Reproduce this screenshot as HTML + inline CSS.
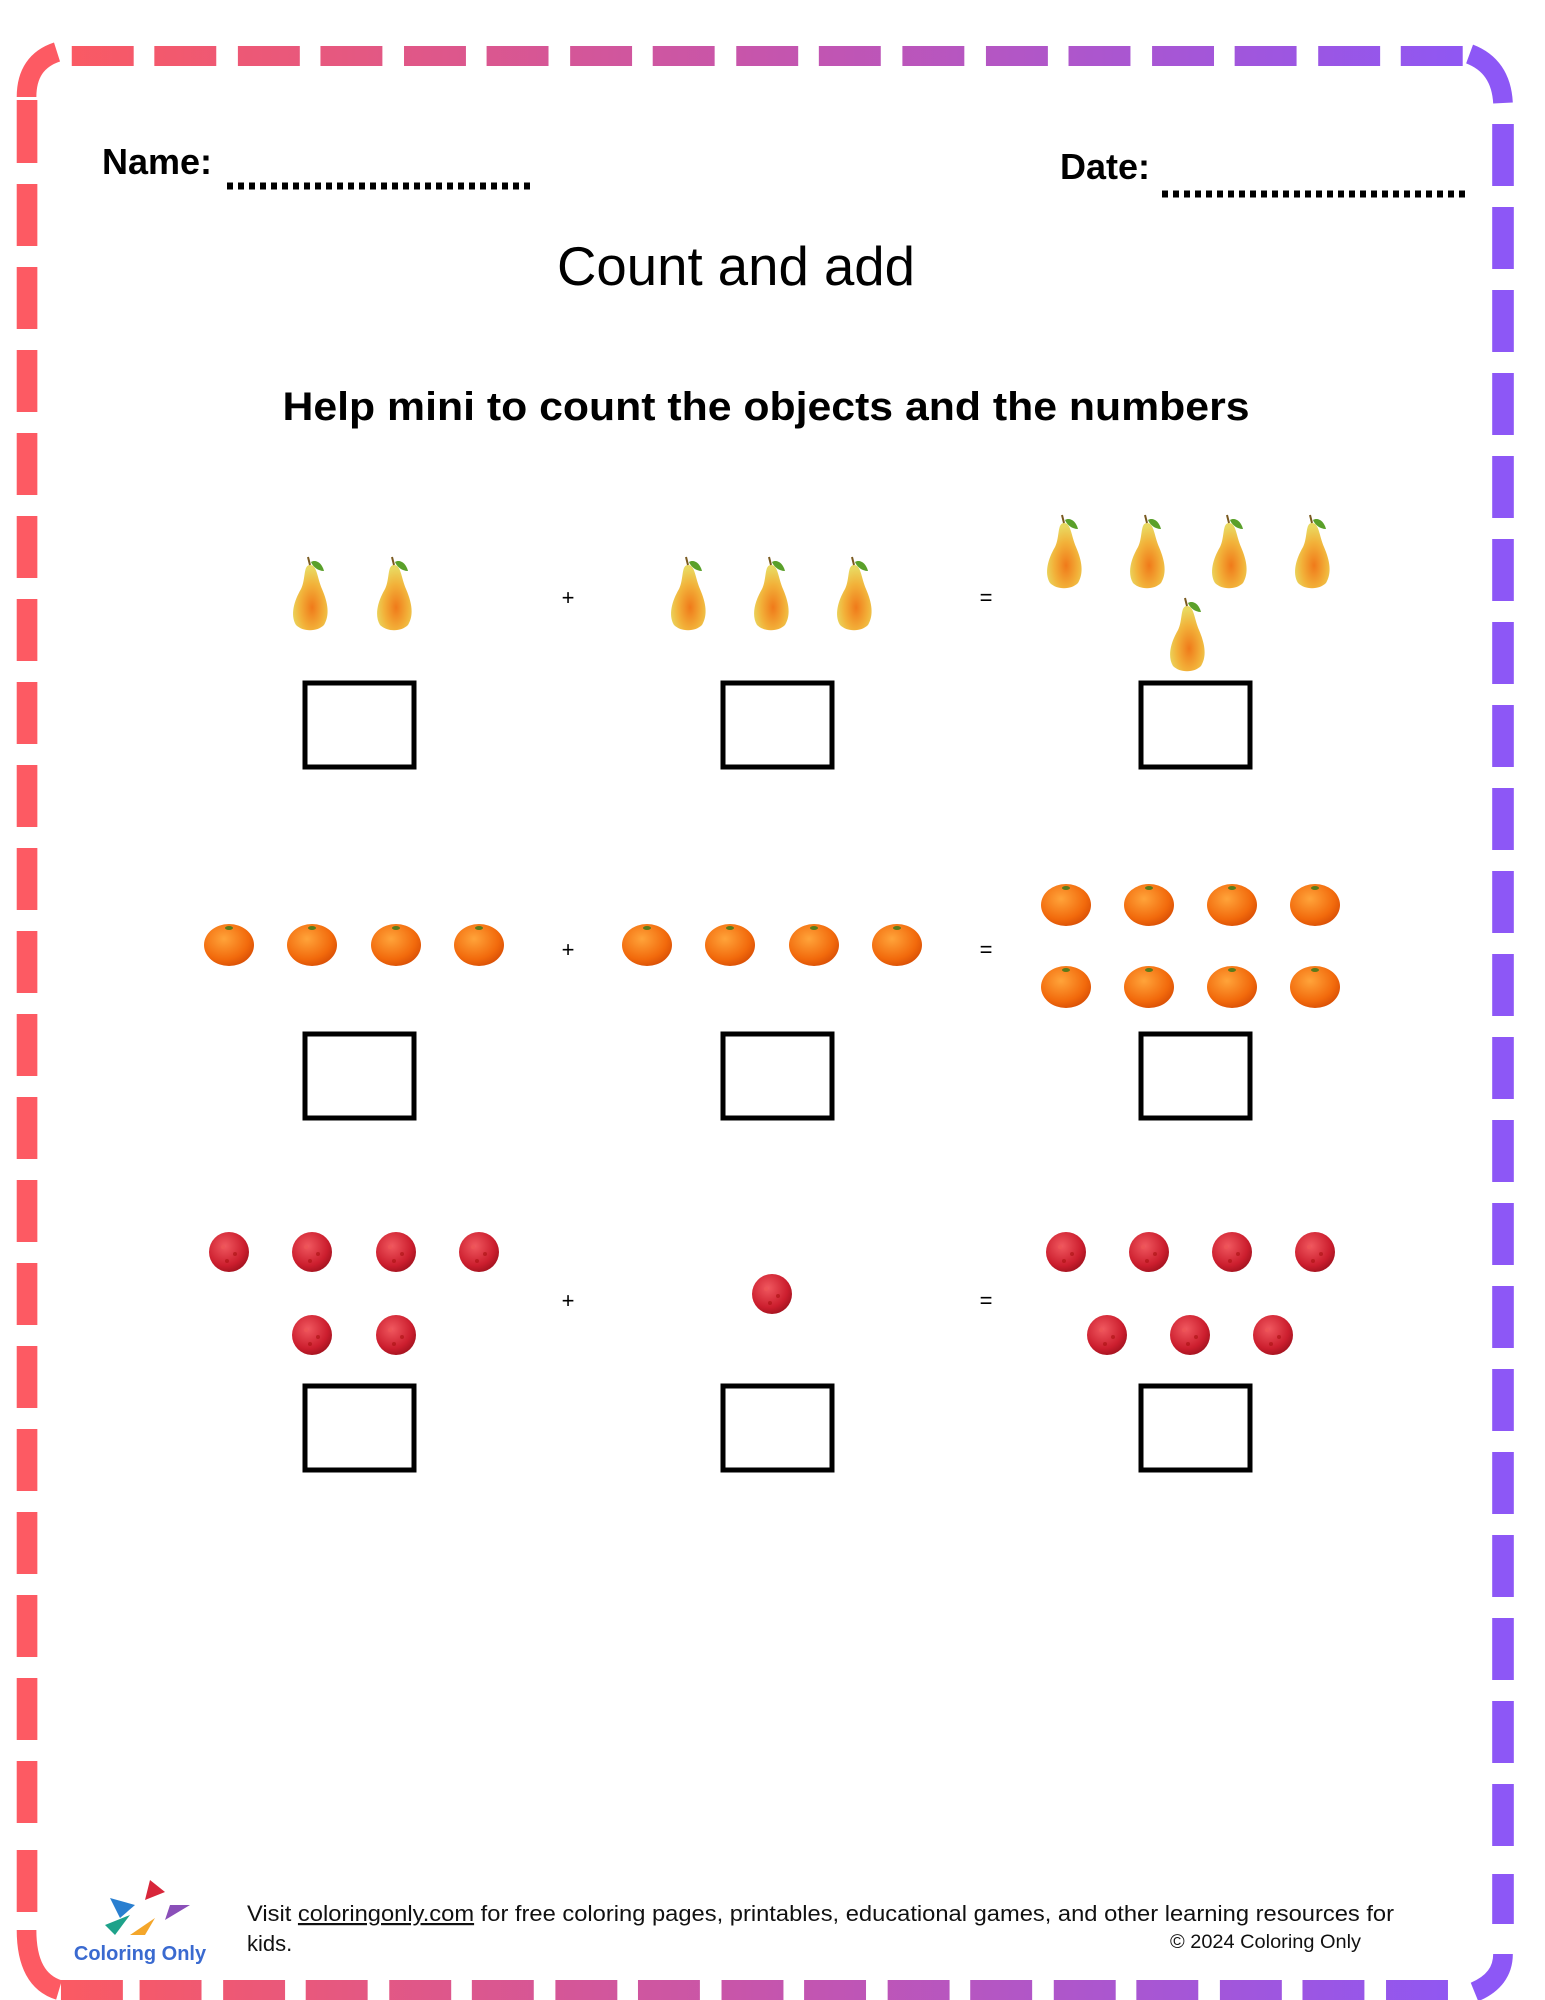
<!DOCTYPE html>
<html><head><meta charset="utf-8"><style>
html,body{margin:0;padding:0;background:#fff;}
svg{display:block;}
</style></head><body>
<svg width="1545" height="2000" viewBox="0 0 1545 2000" xmlns="http://www.w3.org/2000/svg">
<defs>
<linearGradient id="bg" gradientUnits="userSpaceOnUse" x1="0" y1="0" x2="1545" y2="0">
<stop offset="0" stop-color="#ff5a5c"/><stop offset="0.5" stop-color="#c655ac"/><stop offset="1" stop-color="#8b57f8"/>
</linearGradient>
<radialGradient id="pg" cx="0.55" cy="0.65" r="0.6"><stop offset="0" stop-color="#f07a1a"/><stop offset="0.6" stop-color="#f2b23a"/><stop offset="1" stop-color="#e9d860"/></radialGradient>
<radialGradient id="og" cx="0.4" cy="0.35" r="0.7"><stop offset="0" stop-color="#ffa43a"/><stop offset="0.7" stop-color="#f26a0c"/><stop offset="1" stop-color="#d84e05"/></radialGradient>
<radialGradient id="lg" cx="0.4" cy="0.35" r="0.7"><stop offset="0" stop-color="#f0585f"/><stop offset="0.7" stop-color="#cc1e2e"/><stop offset="1" stop-color="#a0121e"/></radialGradient>
<g id="pear">
<path d="M0,-30 C7,-30 7,-18 12,-6 C18,8 20,20 14,30 C7,37 -7,37 -14,30 C-20,20 -16,6 -9,-6 C-4,-16 -7,-30 0,-30Z" fill="url(#pg)"/>
<path d="M0,-30 L-2,-38" stroke="#7a5a20" stroke-width="2"/>
<path d="M1,-33 C6,-36 12,-32 14,-24 C8,-24 3,-28 1,-33Z" fill="#5aa02a"/>
</g>
<g id="orange">
<ellipse cx="0" cy="0" rx="25" ry="21" fill="url(#og)"/>
<ellipse cx="0" cy="-17" rx="4" ry="2" fill="#5b7a1a"/>
</g>
<g id="lychee">
<circle cx="0" cy="0" r="20" fill="url(#lg)"/>
<circle cx="-6" cy="-5" r="2" fill="#e55" opacity=".7"/><circle cx="6" cy="2" r="2" fill="#a11" opacity=".6"/><circle cx="-2" cy="9" r="2" fill="#a11" opacity=".6"/>
</g>
</defs>
<rect width="1545" height="2000" fill="#fff"/>
<g transform="scale(0.983 1)">
<g fill="url(#bg)">
<rect x="73" y="46" width="63" height="20"/><rect x="157" y="46" width="63" height="20"/><rect x="242" y="46" width="63" height="20"/><rect x="326" y="46" width="63" height="20"/><rect x="411" y="46" width="63" height="20"/><rect x="495" y="46" width="63" height="20"/><rect x="580" y="46" width="63" height="20"/><rect x="664" y="46" width="63" height="20"/><rect x="749" y="46" width="63" height="20"/><rect x="833" y="46" width="63" height="20"/><rect x="918" y="46" width="63" height="20"/><rect x="1003" y="46" width="63" height="20"/><rect x="1087" y="46" width="63" height="20"/><rect x="1172" y="46" width="63" height="20"/><rect x="1256" y="46" width="63" height="20"/><rect x="1341" y="46" width="63" height="20"/><rect x="1425" y="46" width="63" height="20"/>
<rect x="62" y="1980" width="63" height="20"/><rect x="142" y="1980" width="63" height="20"/><rect x="227" y="1980" width="63" height="20"/><rect x="311" y="1980" width="63" height="20"/><rect x="396" y="1980" width="63" height="20"/><rect x="480" y="1980" width="63" height="20"/><rect x="565" y="1980" width="63" height="20"/><rect x="649" y="1980" width="63" height="20"/><rect x="734" y="1980" width="63" height="20"/><rect x="818" y="1980" width="63" height="20"/><rect x="903" y="1980" width="63" height="20"/><rect x="987" y="1980" width="63" height="20"/><rect x="1072" y="1980" width="63" height="20"/><rect x="1156" y="1980" width="63" height="20"/><rect x="1241" y="1980" width="63" height="20"/><rect x="1325" y="1980" width="63" height="20"/><rect x="1410" y="1980" width="63" height="20"/>
</g>
<g fill="#fd5a63">
<rect x="17" y="100" width="21" height="63"/><rect x="17" y="184" width="21" height="62"/><rect x="17" y="267" width="21" height="62"/><rect x="17" y="350" width="21" height="62"/><rect x="17" y="433" width="21" height="62"/><rect x="17" y="516" width="21" height="62"/><rect x="17" y="599" width="21" height="62"/><rect x="17" y="682" width="21" height="62"/><rect x="17" y="765" width="21" height="62"/><rect x="17" y="848" width="21" height="62"/><rect x="17" y="931" width="21" height="62"/><rect x="17" y="1014" width="21" height="62"/><rect x="17" y="1097" width="21" height="62"/><rect x="17" y="1180" width="21" height="62"/><rect x="17" y="1263" width="21" height="62"/><rect x="17" y="1346" width="21" height="62"/><rect x="17" y="1429" width="21" height="62"/><rect x="17" y="1512" width="21" height="62"/><rect x="17" y="1595" width="21" height="62"/><rect x="17" y="1678" width="21" height="62"/><rect x="17" y="1761" width="21" height="62"/><rect x="17" y="1850" width="21" height="62"/>
</g>
<g fill="#8d57f6">
<rect x="1518" y="124" width="22" height="62"/><rect x="1518" y="207" width="22" height="62"/><rect x="1518" y="290" width="22" height="62"/><rect x="1518" y="373" width="22" height="62"/><rect x="1518" y="456" width="22" height="62"/><rect x="1518" y="539" width="22" height="62"/><rect x="1518" y="622" width="22" height="62"/><rect x="1518" y="705" width="22" height="62"/><rect x="1518" y="788" width="22" height="62"/><rect x="1518" y="871" width="22" height="62"/><rect x="1518" y="954" width="22" height="62"/><rect x="1518" y="1037" width="22" height="62"/><rect x="1518" y="1120" width="22" height="62"/><rect x="1518" y="1203" width="22" height="62"/><rect x="1518" y="1286" width="22" height="62"/><rect x="1518" y="1369" width="22" height="62"/><rect x="1518" y="1452" width="22" height="62"/><rect x="1518" y="1535" width="22" height="62"/><rect x="1518" y="1618" width="22" height="62"/><rect x="1518" y="1701" width="22" height="62"/><rect x="1518" y="1784" width="22" height="62"/><rect x="1518" y="1874" width="22" height="50"/>
</g>
<g fill="none" stroke-width="20">
<path d="M27,97 Q27,62 58,52" stroke="#fd5a63"/>
<path d="M1495,54 Q1527,66 1529,103" stroke="#8d57f6"/>
<path d="M27,1930 Q27,1980 60,1990" stroke="#fd5a63"/>
<path d="M1529,1954 Q1529,1980 1500,1992" stroke="#8d57f6"/>
</g>
</g>

<g font-family="Liberation Sans, sans-serif" fill="#000">
<text x="102" y="174" font-size="36" font-weight="bold">Name:</text>
<text x="1060" y="179" font-size="36" font-weight="bold">Date:</text>
<line x1="227" y1="186" x2="533" y2="186" stroke="#000" stroke-width="7" stroke-dasharray="6,5"/>
<line x1="1162" y1="194" x2="1469" y2="194" stroke="#000" stroke-width="7" stroke-dasharray="6,5"/>
<text x="736" y="285" font-size="55" text-anchor="middle" textLength="358" lengthAdjust="spacingAndGlyphs">Count and add</text>
<text x="766" y="420" font-size="40" font-weight="bold" text-anchor="middle" textLength="967" lengthAdjust="spacingAndGlyphs">Help mini to count the objects and the numbers</text>
<g font-size="22" text-anchor="middle">
<text x="568" y="605">+</text><text x="986" y="605">=</text>
<text x="568" y="957">+</text><text x="986" y="957">=</text>
<text x="568" y="1308">+</text><text x="986" y="1308">=</text>
</g>
</g>

<use href="#pear" x="310" y="595"/><use href="#pear" x="394" y="595"/>
<use href="#pear" x="688" y="595"/><use href="#pear" x="771" y="595"/><use href="#pear" x="854" y="595"/>
<use href="#pear" x="1064" y="553"/><use href="#pear" x="1147" y="553"/><use href="#pear" x="1229" y="553"/><use href="#pear" x="1312" y="553"/>
<use href="#pear" x="1187" y="636"/>
<use href="#orange" x="229" y="945"/><use href="#orange" x="312" y="945"/><use href="#orange" x="396" y="945"/><use href="#orange" x="479" y="945"/>
<use href="#orange" x="647" y="945"/><use href="#orange" x="730" y="945"/><use href="#orange" x="814" y="945"/><use href="#orange" x="897" y="945"/>
<use href="#orange" x="1066" y="905"/><use href="#orange" x="1149" y="905"/><use href="#orange" x="1232" y="905"/><use href="#orange" x="1315" y="905"/>
<use href="#orange" x="1066" y="987"/><use href="#orange" x="1149" y="987"/><use href="#orange" x="1232" y="987"/><use href="#orange" x="1315" y="987"/>
<use href="#lychee" x="229" y="1252"/><use href="#lychee" x="312" y="1252"/><use href="#lychee" x="396" y="1252"/><use href="#lychee" x="479" y="1252"/>
<use href="#lychee" x="312" y="1335"/><use href="#lychee" x="396" y="1335"/>
<use href="#lychee" x="772" y="1294"/>
<use href="#lychee" x="1066" y="1252"/><use href="#lychee" x="1149" y="1252"/><use href="#lychee" x="1232" y="1252"/><use href="#lychee" x="1315" y="1252"/>
<use href="#lychee" x="1107" y="1335"/><use href="#lychee" x="1190" y="1335"/><use href="#lychee" x="1273" y="1335"/>

<g fill="none" stroke="#000" stroke-width="5">
<rect x="305" y="683" width="109" height="84"/><rect x="723" y="683" width="109" height="84"/><rect x="1141" y="683" width="109" height="84"/>
<rect x="305" y="1034" width="109" height="84"/><rect x="723" y="1034" width="109" height="84"/><rect x="1141" y="1034" width="109" height="84"/>
<rect x="305" y="1386" width="109" height="84"/><rect x="723" y="1386" width="109" height="84"/><rect x="1141" y="1386" width="109" height="84"/>
</g>

<g>
<path d="M150,1880 L165,1892 L145,1900Z" fill="#d8263a"/>
<path d="M110,1898 L135,1905 L120,1918Z" fill="#2a7fd0"/>
<path d="M170,1905 L190,1905 L165,1920Z" fill="#8a4fb8"/>
<path d="M105,1925 L130,1915 L115,1935Z" fill="#1ea28a"/>
<path d="M130,1935 L155,1918 L145,1935Z" fill="#f4a62a"/>
<text x="140" y="1960" font-family="Liberation Sans, sans-serif" font-size="20" font-weight="bold" fill="#3a6ad0" text-anchor="middle">Coloring Only</text>
</g>
<g font-family="Liberation Sans, sans-serif" font-size="22" fill="#111">
<text x="247" y="1921" textLength="1147" lengthAdjust="spacingAndGlyphs">Visit <tspan text-decoration="underline">coloringonly.com</tspan> for free coloring pages, printables, educational games, and other learning resources for</text>
<text x="247" y="1951">kids.</text>
<text x="1170" y="1948" font-size="19" textLength="191" lengthAdjust="spacingAndGlyphs">© 2024 Coloring Only</text>
</g>
</svg>
</body></html>
